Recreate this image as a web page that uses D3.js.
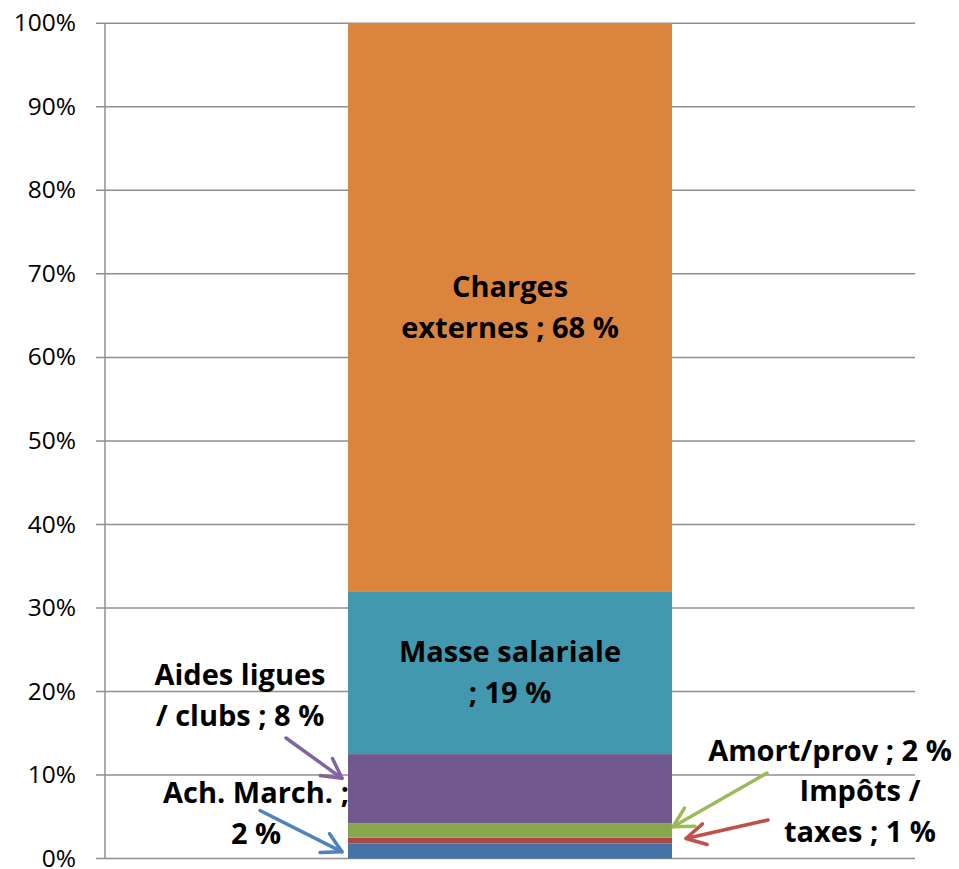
<!DOCTYPE html>
<html>
<head>
<meta charset="utf-8">
<script src="https://cdn.jsdelivr.net/npm/d3@7"></script>
<style>
  body { margin: 0; background: #fff; }
  svg { display: block; }
</style>
</head>
<body>
<svg id="chart" width="959" height="869"></svg>
<script>
// data, bottom to top of the stacked column
const categories = ["Ach. March.", "Impôts / taxes", "Amort/prov", "Aides ligues / clubs", "Masse salariale", "Charges externes"];
const values = [1.8, 0.7, 1.7, 8.3, 19.5, 68.0];
const labelLines = [
  ["Ach. March. ;", "2 %"],
  ["Impôts /", "taxes ; 1 %"],
  ["Amort/prov ; 2 %"],
  ["Aides ligues", "/ clubs ; 8 %"],
  ["Masse salariale", "; 19 %"],
  ["Charges", "externes ; 68 %"]
];
const yTicks = [0, 10, 20, 30, 40, 50, 60, 70, 80, 90, 100];

const fills = ["#4572A7", "#AA4643", "#89A54E", "#71588F", "#4198AF", "#DB843D"];
const arrowColors = ["#4F81BD", "#C0504D", "#9BBB59", "#8064A2"];

const margin = {left: 105, right: 44, top: 23, bottom: 10};
const width = 959, height = 869;

const svg = d3.select("#chart");

const y = d3.scaleLinear().domain([0, 100]).range([height - margin.bottom - 0.5, margin.top + 0.3]);
const x = d3.scaleBand().domain(["col"]).range([margin.left, width - margin.right])
  .paddingInner(0).paddingOuter(0.75);

// gridlines + ticks
const grid = svg.append("g")
grid.selectAll("line")
  .data(yTicks)
  .enter().append("line")
    .attr("x1", margin.left - 9)
    .attr("x2", width - margin.right)
    .attr("y1", d => y(d))
    .attr("y2", d => y(d))
    .attr("stroke", "#8f8f8f")
    .attr("stroke-width", 1.5);

svg.append("line")
  .attr("x1", margin.left).attr("x2", margin.left)
  .attr("y1", y(100)).attr("y2", y(0))
  .attr("stroke", "#8f8f8f")
  .attr("stroke-width", 1.5);

grid.selectAll("text")
  .data(yTicks)
  .enter().append("text")
    .attr("x", 76)
    .attr("y", d => y(d))
    .attr("dy", "0.33em")
    .attr("text-anchor", "end")
    .style("font-family", "'Open Sans', sans-serif")
    .style("font-size", "24.5px")
    .attr("fill", "#000")
    .text(d => d + "%");

// stack
const row = {};
categories.forEach((c, i) => row[c] = values[i]);
const series = d3.stack().keys(categories)([row]);

svg.append("g").selectAll("rect")
  .data(series)
  .enter().append("rect")
    .attr("x", x("col"))
    .attr("width", x.bandwidth())
    .attr("y", d => y(d[0][1]))
    .attr("height", d => y(d[0][0]) - y(d[0][1]))
    .attr("fill", (d, i) => fills[i]);

// labels: inside ones centred in the column, outside ones placed by hand
const labelPos = [
  {x: 256, y: 793},   // Ach. March.
  {x: 860, y: 791},   // Impôts
  {x: 830, y: 751},   // Amort/prov
  {x: 240, y: 675},   // Aides ligues
  null,
  null
];
const lineH = 41;

const labels = svg.append("g")
  .style("font-family", "'Open Sans', sans-serif")
  .style("font-weight", "bold")
  .style("font-size", "29px")
  .attr("fill", "#000");

series.forEach(function(s, i) {
  let cx, cy;
  const lines = labelLines[i];
  if (labelPos[i]) {
    cx = labelPos[i].x; cy = labelPos[i].y;
  } else {
    cx = x("col") + x.bandwidth() / 2;
    cy = (y(s[0][0]) + y(s[0][1])) / 2 - (lines.length - 1) * lineH / 2;
  }
  const t = labels.append("text")
    .attr("text-anchor", "middle");
  lines.forEach(function(l, j) {
    t.append("tspan")
      .attr("x", cx)
      .attr("y", cy + j * lineH)
      .attr("dy", "0.35em")
      .text(l);
  });
});

// arrows: from the label to a point of its segment (value on y, side of column)
const arrows = [
  {from: [260, 810.5], side: "left", at: 0.8, color: arrowColors[0]},
  {from: [768, 820], side: "right", at: 2.4, off: 14, color: arrowColors[1]},
  {from: [767, 773], side: "right", at: 3.8, off: 1, color: arrowColors[2]},
  {from: [286, 738], side: "left", at: 9.6, color: arrowColors[3]}
];

function drawArrow(a) {
  const tx = a.side == "left" ? x("col") - 6 : x("col") + x.bandwidth() + (a.off || 0);
  const ty = y(a.at);
  const fx = a.from[0], fy = a.from[1];
  const ang = Math.atan2(ty - fy, tx - fx);
  const hl = 22, spread = 0.5;
  const g = svg.append("g")
    .attr("stroke", a.color)
    .attr("stroke-width", 3.5)
    .attr("stroke-linecap", "round")
    .attr("fill", "none");
  g.append("line")
    .attr("x1", fx).attr("y1", fy)
    .attr("x2", tx).attr("y2", ty);
  g.append("path")
    .attr("d", "M" + (tx - hl * Math.cos(ang - spread)) + "," + (ty - hl * Math.sin(ang - spread)) +
      "L" + tx + "," + ty +
      "L" + (tx - hl * Math.cos(ang + spread)) + "," + (ty - hl * Math.sin(ang + spread)))
    .attr("stroke-linejoin", "round");
}
arrows.forEach(drawArrow);
</script>
</body>
</html>
